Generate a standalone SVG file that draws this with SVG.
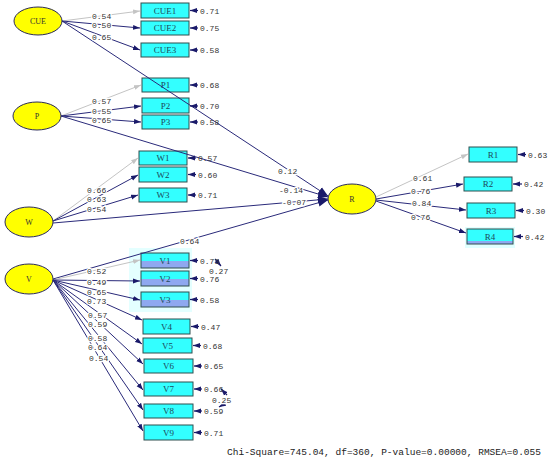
<svg xmlns="http://www.w3.org/2000/svg" width="550" height="460" viewBox="0 0 550 460">
<style>
.lat{fill:#ffff00;stroke:#2a2a5a;stroke-width:1}
.lt{font-family:"Liberation Serif",serif;font-size:8px;fill:#333;text-anchor:middle}
.box{fill:#33ffff;stroke:#2f4f4f;stroke-width:1}
.sel{fill:url(#selg)}
.sel4{fill:url(#selg4)}
.bt{font-family:"Liberation Serif",serif;font-size:9px;fill:#1d4a5a;text-anchor:middle}
.ln{fill:none;stroke:#2a2a7a;stroke-width:1;marker-end:url(#ah)}
.lg{fill:none;stroke:#c4c4c4;stroke-width:1;marker-end:url(#ahg)}
.lr{fill:none;stroke:#2a2a7a;stroke-width:1;marker-end:url(#ahb)}
.er{fill:none;stroke:#1a1a6a;stroke-width:1.2;marker-end:url(#ah)}
.num{font-family:"Liberation Mono",monospace;font-size:8px;fill:#333;paint-order:stroke;stroke:#fff;stroke-width:2.5px}
.en{font-family:"Liberation Mono",monospace;font-size:8px;fill:#333}
.ft{font-family:"Liberation Mono",monospace;font-size:9.5px;fill:#222}
</style>
<defs>
<marker id="ah" markerUnits="userSpaceOnUse" markerWidth="7" markerHeight="6" refX="7" refY="3" orient="auto"><path d="M0,0.5 L7,3 L0,5.5 Z" fill="#1a1a6a"/></marker>
<marker id="ahg" markerUnits="userSpaceOnUse" markerWidth="7" markerHeight="6" refX="7" refY="3" orient="auto"><path d="M0,0.5 L7,3 L0,5.5 Z" fill="#c4c4c4"/></marker>
<marker id="ahb" markerUnits="userSpaceOnUse" markerWidth="10" markerHeight="10" refX="10" refY="5" orient="auto"><path d="M0,1 L10,5 L0,9 Z" fill="#1a1a6a"/></marker>
<linearGradient id="selg" x1="0" y1="0" x2="0" y2="1"><stop offset="0.55" stop-color="#33ffff"/><stop offset="0.55" stop-color="#8fa8f0"/></linearGradient>
<linearGradient id="selg4" x1="0" y1="0" x2="0" y2="1"><stop offset="0.8" stop-color="#33ffff"/><stop offset="0.8" stop-color="#8fa8f0"/></linearGradient>
</defs>
<rect x="129" y="248" width="63" height="64" fill="#e4ffff"/>
<rect x="465" y="227" width="50" height="21" fill="#e0ffff"/>
<g id="CUE"><ellipse class="lat" cx="38" cy="21" rx="24" ry="14"/><text class="lt" x="38" y="24">CUE</text></g>
<g id="P"><ellipse class="lat" cx="37" cy="116" rx="24" ry="14"/><text class="lt" x="37" y="119">P</text></g>
<g id="W"><ellipse class="lat" cx="29" cy="222" rx="24" ry="15"/><text class="lt" x="29" y="225">W</text></g>
<g id="V"><ellipse class="lat" cx="29" cy="279" rx="24" ry="15"/><text class="lt" x="29" y="282">V</text></g>
<g id="R"><ellipse class="lat" cx="352" cy="199" rx="24" ry="15"/><text class="lt" x="352" y="202">R</text></g>
<g id="CUE1"><rect class="box" x="141" y="3" width="48" height="15"/><text class="bt" x="165" y="14">CUE1</text></g>
<g id="CUE2"><rect class="box" x="141" y="21" width="48" height="14"/><text class="bt" x="165" y="31">CUE2</text></g>
<g id="CUE3"><rect class="box" x="141" y="43" width="48" height="14"/><text class="bt" x="165" y="53">CUE3</text></g>
<g id="P1"><rect class="box" x="142" y="78" width="47" height="14"/><text class="bt" x="165.5" y="88">P1</text></g>
<g id="P2"><rect class="box" x="142" y="98" width="47" height="15"/><text class="bt" x="165.5" y="109">P2</text></g>
<g id="P3"><rect class="box" x="142" y="115" width="47" height="14"/><text class="bt" x="165.5" y="125">P3</text></g>
<g id="W1"><rect class="box" x="139" y="151" width="48" height="14"/><text class="bt" x="163" y="161">W1</text></g>
<g id="W2"><rect class="box" x="139" y="167" width="48" height="15"/><text class="bt" x="163" y="178">W2</text></g>
<g id="W3"><rect class="box" x="139" y="188" width="48" height="14"/><text class="bt" x="163" y="198">W3</text></g>
<g id="V1"><rect class="box sel" x="141" y="253" width="48" height="15"/><text class="bt" x="165" y="264">V1</text></g>
<g id="V2"><rect class="box sel" x="141" y="271" width="48" height="15"/><text class="bt" x="165" y="282">V2</text></g>
<g id="V3"><rect class="box sel" x="141" y="292" width="48" height="15"/><text class="bt" x="165" y="303">V3</text></g>
<g id="V4"><rect class="box" x="143" y="319" width="47" height="15"/><text class="bt" x="166.5" y="330">V4</text></g>
<g id="V5"><rect class="box" x="143" y="338" width="49" height="15"/><text class="bt" x="167.5" y="349">V5</text></g>
<g id="V6"><rect class="box" x="144" y="359" width="49" height="14"/><text class="bt" x="168.5" y="369">V6</text></g>
<g id="V7"><rect class="box" x="144" y="382" width="49" height="14"/><text class="bt" x="168.5" y="392">V7</text></g>
<g id="V8"><rect class="box" x="144" y="404" width="49" height="14"/><text class="bt" x="168.5" y="414">V8</text></g>
<g id="V9"><rect class="box" x="144" y="425" width="49" height="15"/><text class="bt" x="168.5" y="436">V9</text></g>
<g id="R1"><rect class="box" x="469" y="147" width="48" height="15"/><text class="bt" x="493" y="158">R1</text></g>
<g id="R2"><rect class="box" x="464" y="177" width="48" height="14"/><text class="bt" x="488" y="187">R2</text></g>
<g id="R3"><rect class="box" x="467" y="203" width="48" height="15"/><text class="bt" x="491" y="214">R3</text></g>
<g id="R4"><rect class="box sel4" x="467" y="229" width="46" height="15"/><text class="bt" x="490" y="240">R4</text></g>
<g id="connectors">
<path class="lg" d="M62,21 L140,11"/>
<path class="ln" d="M62,21 L140,28"/>
<path class="ln" d="M62,21 L140,50"/>
<path class="lr" d="M62,21 L328,196"/>
<path class="lg" d="M61,116 L141,85"/>
<path class="ln" d="M61,116 L141,106"/>
<path class="ln" d="M61,116 L141,122"/>
<path class="lr" d="M61,116 L328,197"/>
<path class="lg" d="M53,221 L138,158"/>
<path class="ln" d="M53,221 L138,175"/>
<path class="ln" d="M53,221 L138,195"/>
<path class="lr" d="M53,223 L328,199"/>
<path class="lr" d="M53,279 L328,200"/>
<path class="lg" d="M53,280 L140,260"/>
<path class="ln" d="M53,280 L140,281"/>
<path class="ln" d="M53,280 L140,300"/>
<path class="ln" d="M53,280 L142,320"/>
<path class="ln" d="M53,280 L142,344"/>
<path class="ln" d="M53,280 L143,364"/>
<path class="ln" d="M53,280 L143,390"/>
<path class="ln" d="M53,280 L143,410"/>
<path class="ln" d="M53,280 L143,431"/>
<path class="lg" d="M376,197 L468,154"/>
<path class="ln" d="M376,199 L463,184"/>
<path class="ln" d="M376,200 L466,210"/>
<path class="ln" d="M376,201 L466,233"/>
<path class="er" d="M198,10.5 L190,10.5"/>
<path class="er" d="M198,28 L190,28"/>
<path class="er" d="M198,50 L190,50"/>
<path class="er" d="M198,85 L190,85"/>
<path class="er" d="M198,106 L190,106"/>
<path class="er" d="M198,122 L190,122"/>
<path class="er" d="M196,158 L188,158"/>
<path class="er" d="M196,174.5 L188,174.5"/>
<path class="er" d="M196,195 L188,195"/>
<path class="er" d="M198,260.5 L190,260.5"/>
<path class="er" d="M198,278.5 L190,278.5"/>
<path class="er" d="M198,299.5 L190,299.5"/>
<path class="er" d="M199,326.5 L191,326.5"/>
<path class="er" d="M201,345.5 L193,345.5"/>
<path class="er" d="M202,366 L194,366"/>
<path class="er" d="M202,389 L194,389"/>
<path class="er" d="M202,411 L194,411"/>
<path class="er" d="M202,432.5 L194,432.5"/>
<path class="er" d="M526,154.5 L518,154.5"/>
<path class="er" d="M522,184 L513,184"/>
<path class="er" d="M524,210.5 L516,210.5"/>
<path class="er" d="M523,236.5 L514,236.5"/>
<path class="er" d="M215,259 L221,266"/>
<path class="er" d="M227,395 L221,389"/>
<path class="er" d="M226,403 L219,407"/>
</g>
<g id="labels">
<text class="num" x="92" y="19">0.54</text>
<text class="num" x="92" y="28">0.50</text>
<text class="num" x="92" y="40">0.65</text>
<text class="num" x="92" y="104">0.57</text>
<text class="num" x="92" y="114">0.55</text>
<text class="num" x="92" y="123">0.65</text>
<text class="num" x="278" y="174">0.12</text>
<text class="num" x="279" y="193">-0.14</text>
<text class="num" x="282" y="205">-0.07</text>
<text class="num" x="87" y="193">0.66</text>
<text class="num" x="87" y="202">0.63</text>
<text class="num" x="87" y="212">0.54</text>
<text class="num" x="180" y="244">0.64</text>
<text class="num" x="87" y="274">0.52</text>
<text class="num" x="87" y="285">0.49</text>
<text class="num" x="87" y="295">0.65</text>
<text class="num" x="87" y="304">0.73</text>
<text class="num" x="88" y="318">0.57</text>
<text class="num" x="88" y="327">0.59</text>
<text class="num" x="88" y="341">0.58</text>
<text class="num" x="88" y="350">0.64</text>
<text class="num" x="89" y="361">0.54</text>
<text class="num" x="413" y="181">0.61</text>
<text class="num" x="411" y="194">0.76</text>
<text class="num" x="412" y="206">0.84</text>
<text class="num" x="411" y="220">0.76</text>
<text class="en" x="200" y="13.5">0.71</text>
<text class="en" x="200" y="31">0.75</text>
<text class="en" x="200" y="53">0.58</text>
<text class="en" x="200" y="88">0.68</text>
<text class="en" x="200" y="109">0.70</text>
<text class="en" x="200" y="125">0.58</text>
<text class="en" x="198" y="161">0.57</text>
<text class="en" x="198" y="177.5">0.60</text>
<text class="en" x="198" y="198">0.71</text>
<text class="en" x="200" y="263.5">0.73</text>
<text class="en" x="200" y="281.5">0.76</text>
<text class="en" x="200" y="302.5">0.58</text>
<text class="en" x="201" y="329.5">0.47</text>
<text class="en" x="203" y="348.5">0.68</text>
<text class="en" x="204" y="369">0.65</text>
<text class="en" x="204" y="392">0.66</text>
<text class="en" x="204" y="414">0.59</text>
<text class="en" x="204" y="435.5">0.71</text>
<text class="en" x="528" y="157.5">0.63</text>
<text class="en" x="524" y="187">0.42</text>
<text class="en" x="526" y="213.5">0.30</text>
<text class="en" x="525" y="239.5">0.42</text>
<text class="num" x="209" y="274">0.27</text>
<text class="num" x="212" y="403">0.25</text>
</g>
<text class="ft" x="227" y="455" textLength="314" lengthAdjust="spacingAndGlyphs">Chi-Square=745.04, df=360, P-value=0.00000, RMSEA=0.055</text>
</svg>
